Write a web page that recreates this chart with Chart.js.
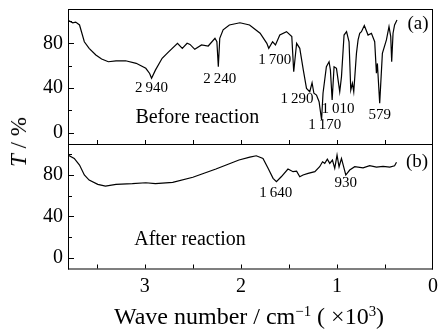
<!DOCTYPE html>
<html><head><meta charset="utf-8">
<script src="https://cdn.jsdelivr.net/npm/chart.js@4.4.0/dist/chart.umd.min.js"></script>
<style>
html,body{margin:0;padding:0;background:#fff;}
#wrap{position:relative;width:440px;height:330px;overflow:hidden;font-family:"Liberation Serif",serif;color:#000;}
#c1{position:absolute;left:0;top:0;}
#c2{position:absolute;left:0;top:144px;}
#ytitle{position:absolute;left:19px;top:142px;transform:translate(-50%,-50%) rotate(-90deg);font-size:23px;white-space:nowrap;}
#xtitle{position:absolute;left:249px;top:316px;transform:translate(-50%,-50%);font-size:24px;white-space:nowrap;line-height:1;}
sup{font-size:62%;vertical-align:0.55em;line-height:0;}
</style></head>
<body>
<div id="wrap">
<canvas id="c1" width="440" height="145"></canvas>
<canvas id="c2" width="440" height="186"></canvas>
<div id="ytitle"><i>T</i> / %</div>
<div id="xtitle">Wave number / cm<sup>−1</sup> ( ×10<sup>3</sup>)</div>
</div>
<script>
// ---- data (wave number in 10^3 cm^-1, transmittance %) ----
const wavenumberA = [3.80,3.75,3.72,3.68,3.63,3.58,3.51,3.45,3.38,3.30,3.20,3.09,2.99,2.95,2.93,2.89,2.82,2.75,2.66,2.61,2.56,2.53,2.48,2.41,2.34,2.27,2.25,2.235,2.22,2.185,2.12,2.01,1.91,1.80,1.73,1.71,1.67,1.64,1.595,1.525,1.47,1.45,1.42,1.387,1.35,1.317,1.283,1.259,1.24,1.213,1.186,1.16,1.145,1.11,1.082,1.068,1.05,1.03,1.005,0.971,0.953,0.926,0.90,0.874,0.856,0.839,0.825,0.797,0.78,0.763,0.745,0.715,0.676,0.641,0.607,0.589,0.579,0.555,0.527,0.485,0.458,0.44,0.43,0.416,0.40,0.375];
const transmittanceA = [100.5,98.4,99,96.4,81.4,75.5,69.5,66,63.5,64.2,64.4,62.1,57.6,53,48.7,56,66.6,72.5,80,75.5,80,79,74.6,78.5,77.6,84.5,81.4,59,84.5,92,96.4,98.4,96.4,89,80,75.5,81.4,78.5,87.4,90.4,86,54.6,80,75.5,56,39.7,36.7,44.7,35.3,33.7,27.7,11.4,35.3,59,63.5,56,29.3,59,57.6,36.7,50,87.4,90.4,81.4,38.2,44.2,36.7,71,83,89,90.4,96,87.4,89,81.4,53.2,62,26.3,71,83,94.9,86,63.5,89,96.4,100.8];
const wavenumberB = [3.80,3.735,3.68,3.63,3.58,3.49,3.41,3.30,3.13,2.99,2.89,2.71,2.50,2.26,2.02,1.907,1.84,1.77,1.717,1.665,1.63,1.58,1.51,1.457,1.42,1.387,1.353,1.30,1.23,1.18,1.15,1.127,1.10,1.075,1.047,1.023,0.999,0.978,0.953,0.908,0.867,0.815,0.728,0.659,0.589,0.52,0.45,0.40,0.38];
const transmittanceB = [99.3,96,89.6,80,75.1,71,69.3,71,71.6,72.5,71.6,72.9,77.8,85.8,94.5,97.3,98.6,96,86.5,76.8,73.5,78.3,85.8,83.2,83.8,78.3,80,81.6,83.2,88,92.8,91.3,95.4,91.3,94.5,86.5,99.3,88,96,80,84.8,88,87,89,87.7,88.4,87.7,89,92.3];
const peakLabelsA = ["2\u2009940","2\u2009240","1\u2009700","1\u2009290","1\u2009010","1\u2009170","579"];
const peakPosA = [[2.93,39.7],[2.22,48],[1.647,65],[1.415,29.9],[0.988,21],[1.127,6.9],[0.555,15.8]];
const peakLabelsB = ["1\u2009640","930"];
const peakPosB = [[1.637,62.3],[0.908,72.5]];

const SERIF = '"Liberation Serif", "Times New Roman", serif';

const frameTicks = {
  id: 'frameTicks',
  afterDraw(chart, args, opts) {
    const {ctx, chartArea: a, scales} = chart;
    ctx.save();
    ctx.globalAlpha = 1;
    ctx.fillStyle = '#000';
    const w = a.right - a.left, h = a.bottom - a.top;
    ctx.fillRect(a.left, a.top, w, 1);
    ctx.fillRect(a.left, a.bottom - 1, w, 1);
    ctx.fillRect(a.left, a.top, 1, h);
    ctx.fillRect(a.right - 1, a.top, 1, h);
    scales.x.ticks.forEach(t => {
      const px = Math.round(scales.x.getPixelForValue(t.value));
      if (px <= a.left + 1 || px >= a.right - 2) return;
      ctx.fillRect(px, a.bottom - 5, 1, 4);
    });
    scales.y.ticks.forEach(t => {
      if (t.value % 20 !== 0) return;
      const py = Math.round(scales.y.getPixelForValue(t.value));
      const len = (t.value % 40 === 0) ? 5 : 3;
      ctx.fillRect(a.left + 1, py, len, 1);
    });
    const ann = (opts && opts.items) || [];
    ctx.textBaseline = 'middle';
    ann.forEach(it => {
      ctx.font = it.size + 'px ' + SERIF;
      ctx.textAlign = 'center';
      ctx.fillText(it.text, scales.x.getPixelForValue(it.x), scales.y.getPixelForValue(it.y));
    });
    ctx.restore();
  }
};

function pts(xs, ys) { return xs.map((x, i) => ({x, y: ys[i]})); }

function makeChart(id, xs, ys, yMin, yMax, showX, items, padTop) {
  return new Chart(document.getElementById(id), {
    type: 'line',
    data: { datasets: [{ data: pts(xs, ys), borderColor: '#000', borderWidth: 1.2, pointRadius: 0, tension: 0, fill: false }] },
    options: {
      responsive: false, animation: false, events: [],
      layout: { padding: { top: padTop, right: 7, bottom: 0, left: 0 } },
      plugins: { legend: { display: false }, tooltip: { enabled: false }, frameTicks: { items } },
      scales: {
        x: {
          type: 'linear', reverse: true, min: 0, max: 3.8,
          grid: { display: false, drawTicks: false }, border: { display: false },
          ticks: { display: showX, stepSize: 0.5, includeBounds: false, autoSkip: false, maxRotation: 0, padding: 5,
                   color: '#000', font: { family: SERIF, size: 20 },
                   callback: v => Number.isInteger(v) ? String(v) : '' },
          afterFit: s => { s.height = showX ? 60.5 : 0; s.paddingLeft = 0; s.paddingRight = 0; }
        },
        y: {
          min: yMin, max: yMax,
          grid: { display: false, drawTicks: false }, border: { display: false },
          ticks: { stepSize: 20, includeBounds: false, autoSkip: false, padding: 5, color: '#000',
                   font: { family: SERIF, size: 20 },
                   callback: v => (v % 40 === 0 ? String(v) : '') },
          afterFit: s => { s.width = 68; s.paddingTop = 0; s.paddingBottom = 0; }
        }
      }
    },
    plugins: [frameTicks]
  });
}

const itemsA = peakLabelsA.map((t, i) => ({text: t, x: peakPosA[i][0], y: peakPosA[i][1], size: 15}))
  .concat([{text: 'Before reaction', x: 2.454, y: 13, size: 20}, {text: '(a)', x: 0.156, y: 97.3, size: 19}]);
const itemsB = peakLabelsB.map((t, i) => ({text: t, x: peakPosB[i][0], y: peakPosB[i][1], size: 15}))
  .concat([{text: 'After reaction', x: 2.53, y: 17.1, size: 20}, {text: '(b)', x: 0.166, y: 92.8, size: 19}]);

makeChart('c1', wavenumberA, transmittanceA, -11, 110.7, false, itemsA, 9);
makeChart('c2', wavenumberB, transmittanceB, -11.4, 110, true, itemsB, 0);
</script>
</body></html>
